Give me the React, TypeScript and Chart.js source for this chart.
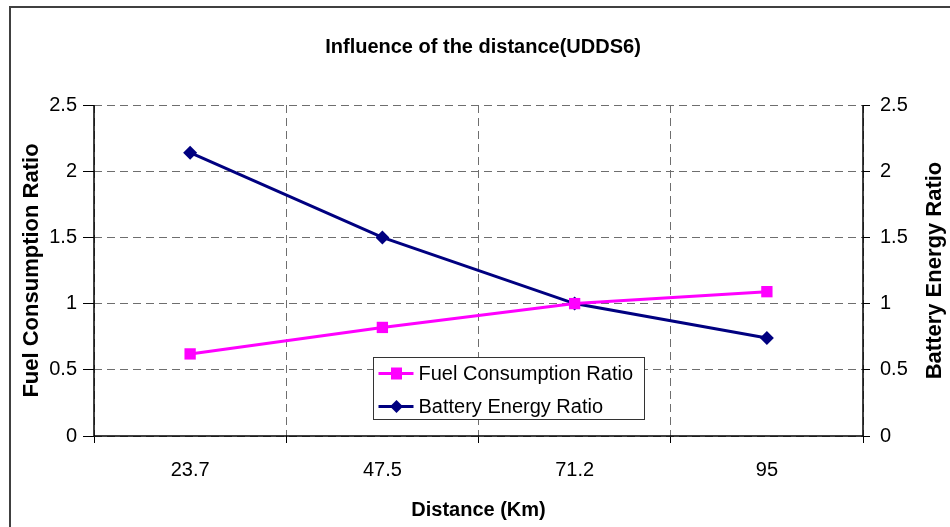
import React, { useEffect, useRef } from "react";
import { Chart, registerables } from "chart.js";

Chart.register(...registerables);

const TITLE = "Influence of the distance(UDDS6)";
const X_TITLE = "Distance (Km)";
const Y_LEFT_TITLE = "Fuel Consumption Ratio";
const Y_RIGHT_TITLE = "Battery Energy Ratio";

const categories = ["23.7", "47.5", "71.2", "95"];
const fuelConsumptionRatio = [0.62, 0.82, 1.0, 1.09];
const batteryEnergyRatio = [2.14, 1.5, 1.0, 0.74];

const Y_MIN = 0;
const Y_MAX = 2.5;
const Y_STEP = 0.5;

const FUEL_COLOR = "#FF00FF";
const BATTERY_COLOR = "#000080";
const FONT = "'Liberation Sans', Arial, sans-serif";

const fmtTick = (v: any) => String(Math.round(Number(v) * 100) / 100);

const framePlugin = {
  id: "outerFrame",
  beforeDraw(chart: any) {
    const ctx = chart.ctx;
    ctx.save();
    ctx.fillStyle = "#ffffff";
    ctx.fillRect(0, 0, chart.width, chart.height);
    ctx.strokeStyle = "#404040";
    ctx.lineWidth = 2;
    ctx.beginPath();
    ctx.moveTo(10, chart.height + 5);
    ctx.lineTo(10, 7);
    ctx.lineTo(chart.width + 5, 7);
    ctx.stroke();
    ctx.restore();
  },
};

const axisLinesPlugin = {
  id: "axisLines",
  beforeDatasetsDraw(chart: any) {
    const { ctx, chartArea } = chart;
    const { left, right, bottom, top } = chartArea;
    ctx.save();
    ctx.setLineDash([]);
    ctx.strokeStyle = "#000000";
    ctx.lineWidth = 1.5;
    ctx.beginPath();
    ctx.moveTo(left, top);
    ctx.lineTo(left, bottom);
    ctx.lineTo(right, bottom);
    ctx.lineTo(right, top);
    ctx.stroke();
    ctx.restore();
  },
};

const rightTitlePlugin = {
  id: "rightTitle",
  afterDraw(chart: any) {
    const { ctx, chartArea } = chart;
    ctx.save();
    ctx.translate(935, (chartArea.top + chartArea.bottom) / 2);
    ctx.rotate(-Math.PI / 2);
    ctx.fillStyle = "#000000";
    ctx.font = `bold 22px ${FONT}`;
    ctx.textAlign = "center";
    ctx.textBaseline = "middle";
    ctx.fillText(Y_RIGHT_TITLE, 0, 0);
    ctx.restore();
  },
};

const legendPlugin = {
  id: "innerLegend",
  afterDraw(chart: any) {
    const ctx = chart.ctx;
    const bx = 373.5;
    const by = 357.5;
    const bw = 271;
    const bh = 62;
    ctx.save();
    ctx.fillStyle = "#ffffff";
    ctx.fillRect(bx, by, bw, bh);
    ctx.strokeStyle = "#333333";
    ctx.lineWidth = 1;
    ctx.strokeRect(bx, by, bw, bh);
    chart.data.datasets.forEach((ds: any, i: number) => {
      const cy = by + 16 + i * 33;
      ctx.strokeStyle = ds.borderColor;
      ctx.lineWidth = 3;
      ctx.beginPath();
      ctx.moveTo(bx + 5, cy);
      ctx.lineTo(bx + 40, cy);
      ctx.stroke();
      const mx = bx + 23;
      ctx.fillStyle = ds.pointBackgroundColor;
      ctx.beginPath();
      if (ds.pointStyle === "rect") {
        ctx.rect(mx - 5.5, cy - 6, 11, 12);
      } else {
        ctx.moveTo(mx, cy - 6.5);
        ctx.lineTo(mx + 6.5, cy);
        ctx.lineTo(mx, cy + 6.5);
        ctx.lineTo(mx - 6.5, cy);
        ctx.closePath();
      }
      ctx.fill();
      ctx.fillStyle = "#000000";
      ctx.font = `20px ${FONT}`;
      ctx.textBaseline = "middle";
      ctx.textAlign = "left";
      ctx.fillText(ds.label, bx + 45, cy + 1);
    });
    ctx.restore();
  },
};

export default function App() {
  const canvasRef = useRef<HTMLCanvasElement | null>(null);

  useEffect(() => {
    if (!canvasRef.current) return;
    const gridColor = "#6e6e6e";
    const chart = new Chart(canvasRef.current, {
      type: "line",
      data: {
        labels: categories,
        datasets: [
          {
            label: "Fuel Consumption Ratio",
            data: fuelConsumptionRatio,
            yAxisID: "y",
            borderColor: FUEL_COLOR,
            backgroundColor: FUEL_COLOR,
            pointBackgroundColor: FUEL_COLOR,
            pointBorderColor: FUEL_COLOR,
            pointStyle: "rect",
            pointRadius: 8,
            pointBorderWidth: 0,
            borderWidth: 3,
            tension: 0,
          },
          {
            label: "Battery Energy Ratio",
            data: batteryEnergyRatio,
            yAxisID: "y1",
            borderColor: BATTERY_COLOR,
            backgroundColor: BATTERY_COLOR,
            pointBackgroundColor: BATTERY_COLOR,
            pointBorderColor: BATTERY_COLOR,
            pointStyle: "rectRot",
            pointRadius: 7,
            pointBorderWidth: 0,
            borderWidth: 3,
            tension: 0,
          },
        ],
      },
      options: {
        responsive: true,
        maintainAspectRatio: false,
        animation: false,
        layout: { padding: { left: 16, right: 0, top: 0, bottom: 0 } },
        plugins: {
          legend: { display: false },
          tooltip: { enabled: false },
          title: {
            display: true,
            text: TITLE,
            color: "#000000",
            font: { family: FONT, size: 20, weight: "bold" },
            padding: { top: 35, bottom: 46 },
          },
        },
        scales: {
          x: {
            type: "category",
            offset: true,
            grid: {
              offset: true,
              color: gridColor,
              lineWidth: 1,
              drawTicks: true,
              tickLength: 7,
              tickColor: "#000000",
              tickBorderDash: [],
            },
            border: { display: false, dash: [8, 5] },
            ticks: {
              color: "#000000",
              font: { family: FONT, size: 20 },
              padding: 15,
              maxRotation: 0,
            },
            title: {
              display: true,
              text: X_TITLE,
              color: "#000000",
              font: { family: FONT, size: 20, weight: "bold" },
              padding: { top: 0, bottom: 5 },
            },
            afterFit(scale: any) {
              scale.height = 91;
            },
          },
          y: {
            type: "linear",
            position: "left",
            min: Y_MIN,
            max: Y_MAX,
            ticks: {
              stepSize: Y_STEP,
              color: "#000000",
              font: { family: FONT, size: 20 },
              padding: 6,
              callback: fmtTick,
            },
            grid: {
              color: gridColor,
              lineWidth: 1,
              tickLength: 11,
              tickColor: "#000000",
              tickBorderDash: [],
            },
            border: { display: false, dash: [8, 5] },
            title: {
              display: true,
              text: Y_LEFT_TITLE,
              color: "#000000",
              font: { family: FONT, size: 22, weight: "bold" },
              padding: { top: 3, bottom: 0 },
            },
            afterFit(scale: any) {
              scale.width = 78;
            },
          },
          y1: {
            type: "linear",
            position: "right",
            min: Y_MIN,
            max: Y_MAX,
            ticks: {
              stepSize: Y_STEP,
              color: "#000000",
              font: { family: FONT, size: 20 },
              padding: 10,
              callback: fmtTick,
            },
            grid: {
              drawOnChartArea: false,
              tickLength: 7,
              tickColor: "#000000",
              tickBorderDash: [],
            },
            border: { display: false },
            title: { display: false },
            afterFit(scale: any) {
              scale.width = 87;
            },
          },
        },
      },
      plugins: [framePlugin, axisLinesPlugin, rightTitlePlugin, legendPlugin],
    });
    return () => chart.destroy();
  }, []);

  return (
    <div style={{ position: "absolute", left: 0, top: 0, width: 950, height: 527 }}>
      <canvas ref={canvasRef} />
    </div>
  );
}
